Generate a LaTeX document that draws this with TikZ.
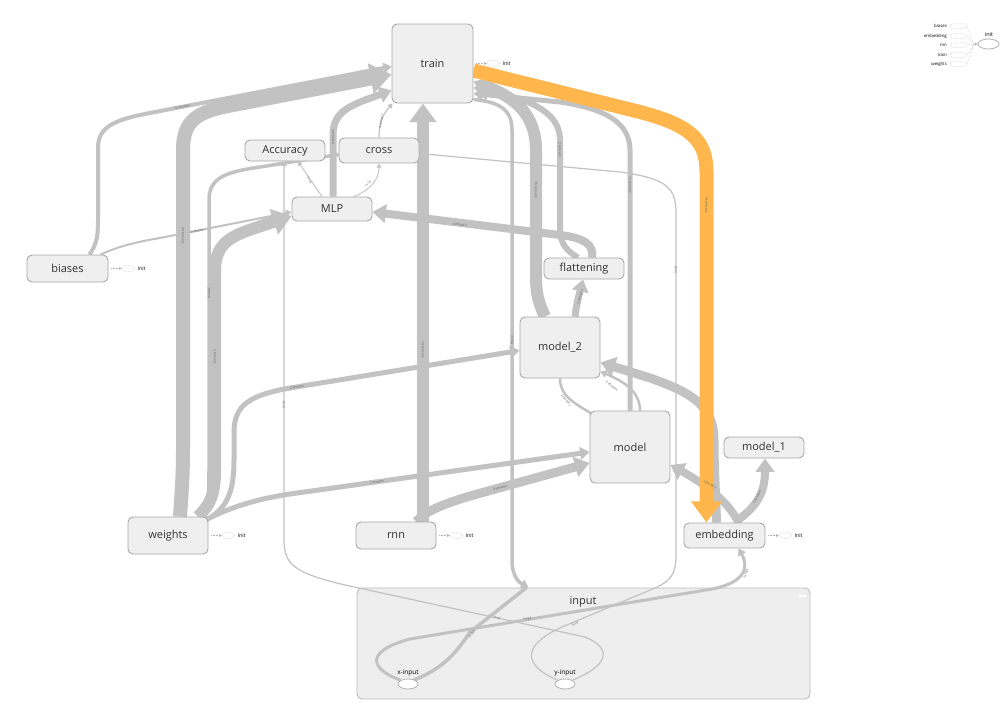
\documentclass[tikz,border=0pt]{standalone}
\usepackage{fontspec}
\setmainfont{Open Sans}
\usetikzlibrary{arrows.meta,shapes.geometric,calc}
\definecolor{edgecol}{HTML}{C2C2C2}
\definecolor{hot}{HTML}{FFB74D}
\definecolor{nodefill}{HTML}{EFEFEF}
\definecolor{nodeline}{HTML}{A8A8A8}
\definecolor{boxfill}{HTML}{EEEEEE}
\definecolor{boxline}{HTML}{BBBBBB}
\definecolor{labelcol}{HTML}{5A5A5A}
\definecolor{txt}{HTML}{333333}
\pgfdeclarelayer{bottom}
\pgfdeclarelayer{edges}
\pgfsetlayers{bottom,edges,main}
\begin{document}
\begin{tikzpicture}[x=1pt,y=-1pt,
  opnode/.style={draw=nodeline, fill=nodefill, rounded corners=5pt, line width=0.9pt,
    text=txt, font=\fontsize{11}{13}\selectfont, inner sep=0pt},
  groupbox/.style={draw=boxline, fill=boxfill, rounded corners=5pt, line width=0.9pt, inner sep=0pt},
  leaf/.style={draw=gray!60, fill=white, ellipse, line width=0.8pt, inner sep=0pt,
    minimum width=20pt, minimum height=10pt},
  leaflabel/.style={font=\fontsize{6.5}{7}\selectfont, text=black, inner sep=0pt},
  fl/.style={draw=edgecol, line width=#1, -{Triangle[length=3pt 1.3, width=3pt 1.9]}},
  plainfl/.style={draw=edgecol, line width=#1},
  hotfl/.style={fl=#1, draw=hot},
  elabel/.style={font=\fontsize{3.3}{4}\selectfont, text=labelcol, inner sep=0.3pt},
  initoval/.style={draw=gray!55, densely dotted, line width=0.5pt, ellipse, inner sep=0pt,
    minimum width=13pt, minimum height=6pt},
  initlink/.style={draw=gray!60, densely dotted, line width=0.5pt, -{Triangle[length=2.5pt,width=2.5pt]}},
  inittext/.style={font=\fontsize{5.2}{6}\selectfont, text=black, inner sep=0pt},
  leglabel/.style={font=\fontsize{4.3}{5}\selectfont, text=black, inner sep=0pt},
  legbox/.style={draw=gray!50, densely dotted, line width=0.5pt, rounded corners=1.5pt,
    minimum width=16pt, minimum height=4.5pt, inner sep=0pt},
  legline/.style={draw=gray!55, densely dotted, line width=0.5pt}
]
\useasboundingbox (0,0) rectangle (1008,712);

% ---------- canvas and the input group ----------
\begin{pgfonlayer}{bottom}
  \fill[white] (0,0) rectangle (1008,712);
  \node[groupbox, minimum width=453pt, minimum height=111pt] (inputbox) at (583.5,643.5) {};
  \fill[white] (799,595) rectangle (806,597);
\end{pgfonlayer}
\node[font=\fontsize{11}{13}\selectfont, text=txt, inner sep=0pt] (inputlabel) at (583,602) {input};
\node[leaf] (xin) at (408,684) {};
\node[leaflabel] (xinlabel) at (408,673) {x-input};
\node[leaf] (yin) at (565,684) {};
\node[leaflabel] (yinlabel) at (565,673) {y-input};

% ---------- operation nodes ----------
\node[opnode, minimum width=81pt, minimum height=79pt] (train) at (432.5,63.5) {train};
\node[opnode, minimum width=80pt, minimum height=21pt] (acc) at (285,150.5) {Accuracy};
\node[opnode, minimum width=80pt, minimum height=25pt] (cross) at (379,150.5) {cross};
\node[opnode, minimum width=80pt, minimum height=24pt] (mlp) at (332,209) {MLP};
\node[opnode, minimum width=81pt, minimum height=27pt] (biases) at (67.5,268.5) {biases};
\node[opnode, minimum width=80pt, minimum height=21pt] (flat) at (584,268.5) {flattening};
\node[opnode, minimum width=80pt, minimum height=61pt] (model2) at (560,347.5) {model\_2};
\node[opnode, minimum width=80pt, minimum height=72pt] (model) at (630,447) {model};
\node[opnode, minimum width=80pt, minimum height=21pt] (model1) at (764,447.5) {model\_1};
\node[opnode, minimum width=80pt, minimum height=37pt] (weights) at (168,535.5) {weights};
\node[opnode, minimum width=80pt, minimum height=27pt] (rnn) at (396,535.5) {rnn};
\node[opnode, minimum width=81pt, minimum height=25pt] (embedding) at (724.5,535.5) {embedding};

% ---------- init markers beside the variable scopes ----------
\foreach \n in {train,biases,weights,rnn,embedding}{
  \node[initoval] (\n-io) at ($(\n.east)+(20,0)$) {};
  \node[inittext, anchor=west] (\n-it) at ($(\n.east)+(29,0)$) {Init};
  \draw[initlink] ($(\n.east)+(3,0)$) -- (\n-io);
}

% ---------- legend of the init node ----------
\coordinate (legjoin) at (974,44);
\node[initoval, draw=gray!60, solid, line width=0.8pt, minimum width=21pt, minimum height=10pt] (initnode) at (988.5,44) {};
\node[leglabel, font=\fontsize{5.5}{6}\selectfont] (initlabel) at (989,35) {init};
\foreach \lab/\yy [count=\i] in {biases/26,embedding/36,rnn/45,train/55,weights/64}{
  \node[leglabel, anchor=east] (leg\i) at (947,\yy) {\lab};
  \node[legbox] (legb\i) at (958.5,\yy) {};
  \draw[legline] (legb\i.east) -- (legjoin);
}
\draw[initlink, solid, draw=gray!60] (legjoin) -- (initnode.west);

% ---------- data-flow connectors ----------
\begin{pgfonlayer}{edges}
% into train from the left
\draw[fl=4] ($(biases.north)+(22,0)$) .. controls (96,245) and (98,238) .. (98,222) -- (98,148)
  .. controls (98,128) and (112,120) .. (150,113) -- ($(train.west)+(0,3)$);
\draw[fl=14] ($(weights.north)+(12,0)$) .. controls (181,500) and (183,480) .. (183,450) -- (183,150)
  .. controls (183,120) and (198,112) .. (228,106) -- ($(train.west)+(0,11)$);
\draw[fl=7] ($(mlp.north)+(1,0)$) -- (333,135) .. controls (333,115) and (345,108) .. (365,100)
  -- ($(train.west)+(0,27)$);
\draw[fl=1.2] (cross.north) .. controls (379,120) and (385,112) .. ($(train.south west)+(1,0)$);
\draw[fl=12] ($(rnn.north)+(27,0)$) -- ($(train.south)+(-9.5,0)$);

% out of weights and biases
\draw[fl=12] ($(weights.north)+(30,0)$) .. controls (210,505) and (215,495) .. (215,470) -- (215,272)
  .. controls (215,245) and (228,237) .. (255,228) -- ($(mlp.west)+(0,7)$);
\draw[plainfl=3.5] ($(weights.north)+(37,0)$) .. controls (208,505) and (209,495) .. (209,470) -- (209,200)
  .. controls (209,178) and (225,172) .. (260,167) -- ($(cross.west)+(0,4)$);
\draw[fl=5] ($(weights.north)+(44,0)$) .. controls (228,505) and (234,490) .. (234,460) -- (234,432)
  .. controls (234,405) and (250,395) .. (290,388) -- ($(model2.west)+(0,3)$);
\draw[fl=5] ($(weights.east)+(-2,-16)$) .. controls (225,510) and (250,500) .. (290,494)
  -- ($(model.west)+(0,5)$);
\draw[fl=2] ($(biases.north)+(33,0)$) .. controls (115,248) and (130,243) .. (160,238)
  -- ($(mlp.west)+(0,3)$);
\draw[fl=9] ($(rnn.north)+(20,0)$) .. controls (425,512) and (440,505) .. (470,496)
  -- ($(model.west)+(0,16)$);

% around MLP
\draw[fl=0.9] ($(mlp.north)+(-10,0)$) -- ($(acc.south)+(13,0)$);
\draw[fl=0.9] ($(mlp.north)+(22,0)$) .. controls (370,190) and (379,180) .. (cross.south);
\draw[fl=8] ($(flat.north)+(8,0)$) .. controls (594,245) and (585,238) .. (560,235)
  -- ($(mlp.east)+(0,3)$);
\draw[fl=7] ($(model2.north)+(15,0)$) .. controls (577,300) and (580,292) .. ($(flat.south)+(-1,0)$);

% into train from the right
\draw[fl=12] ($(model2.north)+(-15,0)$) .. controls (537,300) and (536,290) .. (536,275) -- (536,150)
  .. controls (536,115) and (515,98) .. ($(train.east)+(0,18)$);
\draw[fl=6] ($(flat.north)+(-6,0)$) .. controls (562,248) and (560,240) .. (560,225) -- (560,140)
  .. controls (560,110) and (525,98) .. ($(train.east)+(0,24)$);
\draw[fl=5] (model.north) -- (630,150) .. controls (630,120) and (600,108) .. (560,102)
  -- ($(train.east)+(0,30)$);
\draw[fl=3.5] ($(train.south east)+(0,-4)$) .. controls (500,102) and (512,110) .. (512,130) -- (512,560)
  .. controls (512,575) and (518,582) .. ($(inputbox.north west)+(172,0)$);

% between the models and the embedding
\draw[fl=9] ($(embedding.north)+(-8,0)$) .. controls (716,500) and (714,470) .. (714,440)
  .. controls (714,405) and (690,392) .. (650,378) -- ($(model2.east)+(0,15)$);
\draw[fl=2.5] ($(model.north)+(10,0)$) .. controls (640,395) and (630,384) .. ($(model2.east)+(0,24)$);
\draw[plainfl=2.5] (model2.south) .. controls (560,395) and (572,402) .. ($(model.north west)+(2,3)$);
\draw[fl=8] ($(embedding.north)+(14,0)$) .. controls (730,505) and (712,488) .. ($(model.east)+(0,18)$);
\draw[fl=8] ($(embedding.north)+(10,0)$) .. controls (755,508) and (765,495) .. ($(model1.south)+(1,0)$);

% from the input group
\draw[plainfl=3.5] ($(xin.north east)+(-2,0)$) .. controls (445,668) and (458,650) .. (470,632)
  -- ($(inputbox.north west)+(170,0)$);
\draw[fl=3] (xin.north west) .. controls (372,670) and (362,652) .. (410,639) -- (712,589)
  .. controls (748,582) and (748,565) .. ($(embedding.south)+(14,0)$);
\draw[plainfl=1.2] (yin.north west) .. controls (522,665) and (522,645) .. (562,627) -- (655,588)
  .. controls (670,581) and (676,575) .. (676,555) -- (676,212)
  .. controls (676,185) and (662,178) .. (620,172) -- ($(cross.east)+(0,3)$);
\draw[fl=1.2] (yin.north east) .. controls (610,665) and (612,648) .. (585,637) -- (345,585)
  .. controls (295,573) and (284,565) .. (284,540) -- ($(acc.south)+(-1,0)$);

% the hot path from train to the embedding
\draw[hotfl=14] ($(train.east)+(0,7)$) -- (640,112) .. controls (690,125) and (706.5,140) .. (706.5,172)
  -- ($(embedding.north)+(-18,0)$);
\end{pgfonlayer}

% ---------- connector labels ----------
\node[elabel, rotate=11] (t1) at (182,107) {12 tensors};
\node[elabel, rotate=-90] (t2) at (183,236) {34 tensors};
\node[elabel, rotate=-90] (t3) at (215,357) {2 tensors};
\node[elabel, rotate=-90] (t4) at (209,293) {300×10};
\node[elabel, rotate=11] (t5) at (197,231) {2 tensors};
\node[elabel, rotate=9] (t6) at (297,387) {2 tensors};
\node[elabel, rotate=8] (t7) at (377,482) {2 tensors};
\node[elabel, rotate=15] (t8) at (500,488) {4 tensors};
\node[elabel, rotate=-90] (t9) at (423,350) {14 tensors};
\node[elabel, rotate=90] (t10) at (333,137) {4 tensors};
\node[elabel, rotate=80] (t11) at (381,121) {4 tensors};
\node[elabel, rotate=-56] (t12) at (309,180) {?×10};
\node[elabel, rotate=45] (t13) at (368,184) {?×10};
\node[elabel, rotate=90] (t14) at (284,405) {?×10};
\node[elabel, rotate=90] (t15) at (676,270) {?×10};
\node[elabel, rotate=173] (t16) at (460,225) {2 tensors};
\node[elabel, rotate=75] (t17) at (580,297) {2 tensors};
\node[elabel, rotate=-90] (t18) at (536,190) {76 tensors};
\node[elabel, rotate=-90] (t19) at (560,150) {2 tensors};
\node[elabel, rotate=-90] (t20) at (630,185) {12 tensors};
\node[elabel, rotate=-90] (t21) at (706.5,205) {14 tensors};
\node[elabel, rotate=-90] (t22) at (512,340) {?×784};
\node[elabel, rotate=-50] (t23) at (566,400) {2 tensors};
\node[elabel, rotate=-38] (t24) at (612,386) {2 tensors};
\node[elabel, rotate=153] (t25) at (710,485) {2 tensors};
\node[elabel, rotate=62] (t26) at (757,497) {2 tensors};
\node[elabel, rotate=70] (t27) at (746,574) {?×784};
\node[elabel, rotate=52] (t28) at (472,634) {?×784};
\node[elabel, rotate=9] (t29) at (527,619) {?×784};
\node[elabel, rotate=-13] (t30) at (497,618) {?×10};
\node[elabel, rotate=33] (t31) at (575,624) {?×10};
\end{tikzpicture}
\end{document}
